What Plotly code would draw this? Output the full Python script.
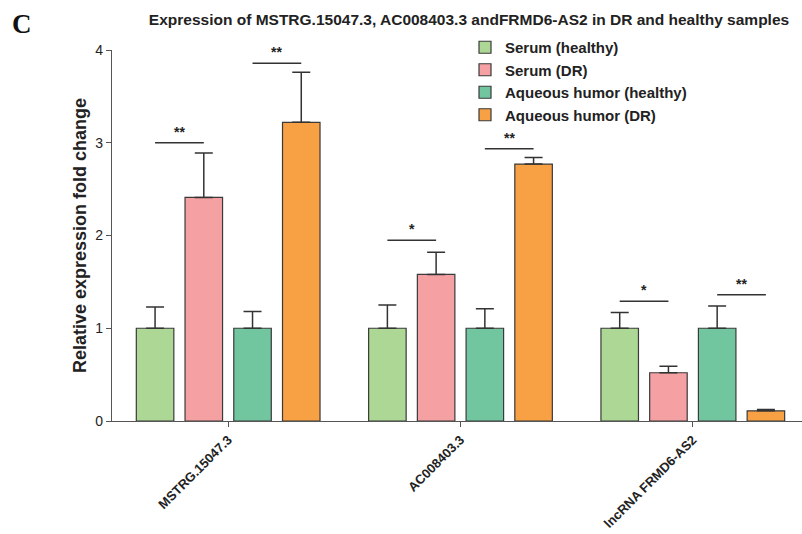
import plotly.graph_objects as go

categories = ["MSTRG.15047.3", "AC008403.3", "lncRNA FRMD6-AS2"]
series_names = ["Serum (healthy)", "Serum (DR)", "Aqueous humor (healthy)", "Aqueous humor (DR)"]
serum_healthy = [1.0, 1.0, 1.0]
serum_dr = [2.41, 1.58, 0.52]
aqueous_healthy = [1.0, 1.0, 1.0]
aqueous_dr = [3.22, 2.77, 0.11]
serum_healthy_err = [0.23, 0.25, 0.17]
serum_dr_err = [0.48, 0.24, 0.07]
aqueous_healthy_err = [0.18, 0.21, 0.24]
aqueous_dr_err = [0.54, 0.07, 0.015]
colors = ["#ADD795", "#F5A0A3", "#71C6A0", "#F7A144"]

# significance brackets: (group index, first series, second series, y, label)
sig_group = [0, 0, 1, 1, 2, 2]
sig_from = [0, 2, 0, 2, 0, 2]
sig_to = [1, 3, 1, 3, 1, 3]
sig_y = [3.0, 3.856, 1.948, 2.936, 1.29, 1.36]
sig_label = ["**", "**", "*", "**", "*", "**"]

values = [serum_healthy, serum_dr, aqueous_healthy, aqueous_dr]
errors = [serum_healthy_err, serum_dr_err, aqueous_healthy_err, aqueous_dr_err]

FONT = "Arial, 'Liberation Sans', sans-serif"
BARGAP = 0.161
BARGROUPGAP = 0.23
n_series = len(series_names)
slot = (1 - BARGAP) / n_series

fig = go.Figure()
for name, vals, errs, col in zip(series_names, values, errors, colors):
    fig.add_trace(go.Bar(
        name="<b>" + name + "</b>", x=categories, y=vals,
        marker=dict(color=col, line=dict(color="#3a3a3a", width=1.2)),
        error_y=dict(type="data", array=errs, arrayminus=[0] * len(errs),
                     symmetric=False, color="#333333", thickness=1.5, width=9),
    ))

def series_pos(g, s):
    return g + (s - (n_series - 1) / 2) * slot

shapes = []
annotations = []
for g, a, b, yv, lab in zip(sig_group, sig_from, sig_to, sig_y, sig_label):
    x0 = series_pos(g, a)
    x1 = series_pos(g, b)
    shapes.append(dict(type="line", xref="x", yref="y", x0=x0, x1=x1, y0=yv, y1=yv,
                       line=dict(color="#333333", width=1.5)))
    annotations.append(dict(x=(x0 + x1) / 2, y=yv, xref="x", yref="y", text="<b>" + lab + "</b>",
                            showarrow=False, yanchor="bottom", yshift=1,
                            font=dict(family=FONT, size=14, color="#222222")))

annotations.append(dict(x=-90 / 690, y=1 + 26 / 371, xref="paper", yref="paper", text="<b>C</b>",
                        showarrow=False, xanchor="center", yanchor="middle",
                        font=dict(family="'Liberation Serif', 'Times New Roman', serif", size=27, color="#111111")))

fig.update_layout(
    width=802, height=534,
    margin=dict(l=112, r=0, t=50, b=113),
    paper_bgcolor="white", plot_bgcolor="white",
    barmode="group", bargap=BARGAP, bargroupgap=BARGROUPGAP,
    font=dict(family=FONT, color="#222222"),
    title=dict(text="<b>Expression of MSTRG.15047.3, AC008403.3 andFRMD6-AS2 in DR and healthy samples</b>",
               x=469 / 802, xanchor="center", y=1 - 20 / 534, yanchor="middle",
               font=dict(family=FONT, size=15.5, color="#222222")),
    xaxis=dict(type="category", range=[-0.5, 2.47], showline=True, linecolor="#555555", linewidth=1.2,
               ticks="outside", ticklen=5, tickcolor="#555555", tickwidth=1.2, automargin=False,
               tickangle=-45, tickfont=dict(family=FONT, size=13, color="#222222"),
               tickprefix="<b>", ticksuffix="</b>", showgrid=False, zeroline=False),
    yaxis=dict(range=[0, 4], tickvals=[0, 1, 2, 3, 4], showline=True, linecolor="#555555", linewidth=1.2,
               ticks="outside", ticklen=5, tickcolor="#555555", tickwidth=1.2, automargin=False,
               tickfont=dict(family=FONT, size=14, color="#222222"), tickprefix="<b>", ticksuffix="</b>",
               showgrid=False, zeroline=False,
               title=dict(text="<b>Relative expression fold change</b>", standoff=4,
                          font=dict(family=FONT, size=18, color="#222222"))),
    legend=dict(x=0.5 + 8 / 690, y=1 + 19 / 371, xanchor="left", yanchor="top", bgcolor="rgba(0,0,0,0)",
                font=dict(family=FONT, size=15, color="#222222"), tracegroupgap=0,
                itemwidth=30),
    shapes=shapes, annotations=annotations,
)

fig.write_html("out.html")
